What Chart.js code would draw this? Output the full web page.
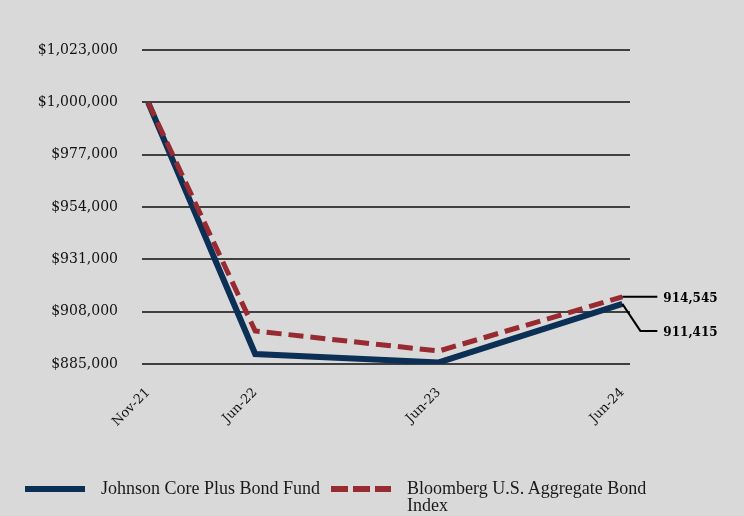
<!DOCTYPE html>
<html>
<head>
<meta charset="utf-8">
<script src="https://cdn.jsdelivr.net/npm/chart.js@4/dist/chart.umd.min.js"></script>
<style>
  html, body { margin: 0; padding: 0; background: #d9d9d9; }
  #wrap { position: relative; width: 744px; height: 516px; }
  #legend { position: absolute; left: 25px; top: 480px; display: flex; align-items: flex-start;
            font-family: "Liberation Serif", serif; font-size: 18px; line-height: 17px; color: #1a1a1a; }
  .item { display: flex; align-items: flex-start; margin-right: 11px; }
  .swatch { width: 60px; height: 6px; margin-top: 6px; margin-right: 16px; }
  .txt { max-width: 260px; }
</style>
</head>
<body>
<div id="wrap">
  <canvas id="growthChart" width="744" height="516"></canvas>
  <div id="legend"></div>
</div>
<script>
const periods = ['Nov-21', 'Jun-22', 'Jun-23', 'Jun-24'];
const monthIndex = [0, 7, 19, 31];
const fundValues = [1000000, 889400, 885700, 911415];
const indexValues = [1000000, 899500, 890700, 914545];
const yTicks = [885000, 908000, 931000, 954000, 977000, 1000000, 1023000];

const seriesNames = ['Johnson Core Plus Bond Fund', 'Bloomberg U.S. Aggregate Bond Index'];
const navy = '#0b2f55';
const red = '#982a31';

document.addEventListener('DOMContentLoaded', function() {
    const ctx = document.getElementById('growthChart').getContext('2d');

    // leader lines + value labels at the last point
    const endLabels = {
        id: 'endLabels',
        afterDatasetsDraw: function(chart) {
            const c = chart.ctx;
            const xs = chart.scales.x;
            const ys = chart.scales.y;
            const last = monthIndex.length - 1;
            const px = xs.getPixelForValue(monthIndex[last]);
            const yIdx = ys.getPixelForValue(indexValues[last]);
            const yFund = ys.getPixelForValue(fundValues[last]);
            c.save();
            c.strokeStyle = '#000';
            c.lineWidth = 2;
            c.beginPath();
            c.moveTo(px, yIdx);
            c.lineTo(px + 35, yIdx);
            c.moveTo(px, yFund);
            c.lineTo(px + 18, yFund + 27);
            c.lineTo(px + 35, yFund + 27);
            c.stroke();
            c.fillStyle = '#000';
            c.font = 'bold 12px "DejaVu Serif"';
            c.textBaseline = 'middle';
            c.textAlign = 'left';
            c.fillText(indexValues[last].toLocaleString('en-US'), px + 41, yIdx + 2);
            c.fillText(fundValues[last].toLocaleString('en-US'), px + 41, yFund + 29);
            c.restore();
        }
    };

    new Chart(ctx, {
        type: 'line',
        data: {
            datasets: [{
                label: seriesNames[0],
                data: monthIndex.map(function(m, i) { return { x: m, y: fundValues[i] }; }),
                borderColor: navy,
                borderWidth: 6,
                pointRadius: 0,
                tension: 0,
                order: 1
            }, {
                label: seriesNames[1],
                data: monthIndex.map(function(m, i) { return { x: m, y: indexValues[i] }; }),
                borderColor: red,
                borderWidth: 5,
                borderDash: [15, 7],
                pointRadius: 0,
                tension: 0,
                order: 0
            }]
        },
        options: {
            responsive: false,
            animation: false,
            layout: { padding: { left: 0, right: 114, top: 50, bottom: 52 } },
            scales: {
                x: {
                    type: 'linear',
                    min: -0.4,
                    max: 31.5,
                    afterBuildTicks: function(scale) {
                        scale.ticks = monthIndex.map(function(m) { return { value: m }; });
                    },
                    afterFit: function(scale) { scale.height = 100; },
                    grid: { display: false, drawTicks: false },
                    border: { display: false },
                    ticks: {
                        autoSkip: false,
                        minRotation: 45,
                        maxRotation: 45,
                        padding: 21,
                        color: '#111',
                        font: { family: '"DejaVu Serif"', size: 13 },
                        callback: function(value) {
                            const i = monthIndex.indexOf(value);
                            return i >= 0 ? periods[i] : '';
                        }
                    }
                },
                y: {
                    min: yTicks[0],
                    max: yTicks[yTicks.length - 1],
                    afterBuildTicks: function(scale) {
                        scale.ticks = yTicks.map(function(v) { return { value: v }; });
                    },
                    afterFit: function(scale) { scale.width = 142; },
                    grid: { color: '#404040', lineWidth: 2, drawTicks: false },
                    border: { display: false },
                    ticks: {
                        padding: 24,
                        color: '#111',
                        font: { family: '"DejaVu Serif"', size: 14 },
                        callback: function(value) {
                            return '$' + value.toLocaleString('en-US');
                        }
                    }
                }
            },
            plugins: {
                legend: { display: false },
                tooltip: { enabled: false }
            }
        },
        plugins: [endLabels]
    });

    const legend = document.getElementById('legend');
    const swatches = [
        'background:' + navy,
        'background: repeating-linear-gradient(90deg, ' + red + ' 0 17px, transparent 17px 22px)'
    ];
    seriesNames.forEach(function(name, i) {
        const item = document.createElement('div');
        item.className = 'item';
        const txt = i === 1 ? 'Bloomberg U.S. Aggregate Bond<br>Index' : name;
        item.innerHTML = '<div class="swatch" style="' + swatches[i] + '"></div><div class="txt">' + txt + '</div>';
        legend.appendChild(item);
    });
});
</script>
</body>
</html>
